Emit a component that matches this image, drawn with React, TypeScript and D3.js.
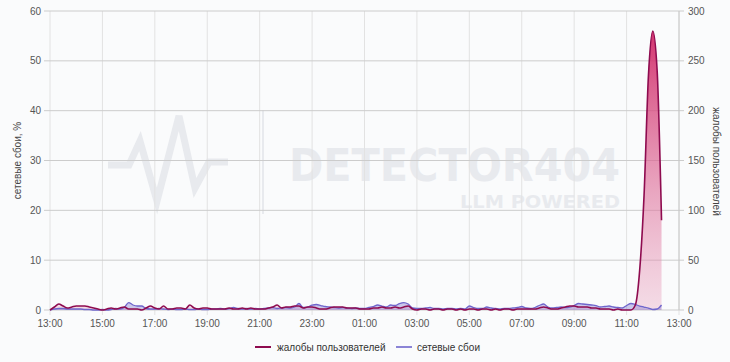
import React from "react";
import * as d3 from "d3";

// complaints per 10-minute bucket, starting 13:00 (right axis)
const complaints: number[] = [
  0, 3, 6, 4, 2, 3,
  4, 4, 4, 3, 2, 1,
  0, 1, 2, 1, 2, 3,
  1, 1, 1, 0, 2, 4,
  2, 1, 4, 1, 1, 2,
  2, 1, 5, 2, 1, 2,
  2, 1, 1, 1, 1, 2,
  1, 1, 2, 1, 2, 1,
  1, 1, 2, 3, 5, 2,
  3, 3, 4, 4, 2, 3,
  3, 2, 1, 1, 2, 3,
  3, 3, 2, 2, 2, 1,
  1, 1, 2, 2, 3, 2,
  2, 3, 2, 3, 4, 1,
  0, 1, 1, 0, 1, 1,
  0, 1, 1, 0, 1, 0,
  1, 1, 0, 1, 1, 0,
  1, 0, 1, 1, 0, 1,
  1, 1, 1, 1, 2, 3,
  2, 1, 1, 2, 3, 4,
  4, 3, 3, 3, 2, 2,
  1, 1, 1, 0, 1, 0,
  0, 0, 5, 40, 115, 235,
  280, 240, 90,
];

// network failures, % (left axis)
const failures: number[] = [
  0, 0.2, 0.3, 0.3, 0.2, 0.2,
  0.2, 0.2, 0.1, 0.1, 0, 0,
  0.1, 0, 0.1, 0.3, 0.2, 0.5,
  1.5, 1.0, 0.8, 0.8, 0.3, 0.2,
  0.2, 0.3, 0.2, 0.1, 0.2, 0.1,
  0.1, 0.2, 0.1, 0.1, 0.2, 0.1,
  0.1, 0.2, 0.2, 0.3, 0.2, 0.3,
  0.5, 0.3, 0.2, 0.3, 0.2, 0.3,
  0.2, 0.3, 0.4, 0.5, 0.3, 0.4,
  0.5, 0.4, 0.6, 1.3, 0.5, 0.6,
  1.0, 1.1, 0.9, 0.7, 0.6, 0.5,
  0.4, 0.5, 0.4, 0.3, 0.4, 0.3,
  0.3, 0.5, 0.7, 1.0, 0.8, 0.6,
  1.0, 0.9, 1.3, 1.5, 1.2, 0.4,
  0.3, 0.3, 0.4, 0.5, 0.3, 0.3,
  0.2, 0.3, 0.3, 0.2, 0.3, 0.2,
  0.8, 0.5, 0.3, 0.3, 0.6, 0.4,
  0.3, 0.2, 0.3, 0.3, 0.4, 0.5,
  0.7, 0.4, 0.3, 0.5, 0.9, 1.2,
  0.6, 0.4, 0.5, 0.6, 0.5, 0.6,
  0.9, 1.3, 1.2, 1.1, 1.0, 0.9,
  0.6, 0.7, 0.8, 0.6, 0.5, 0.4,
  0.9, 1.3, 1.1, 0.8, 0.6, 0.4,
  0.1, 0.2, 1.0,
];

const leftTicks = [0, 10, 20, 30, 40, 50, 60];
const rightTicks = [0, 50, 100, 150, 200, 250, 300];
const xTickHours = [0, 2, 4, 6, 8, 10, 12, 14, 16, 18, 20, 22, 24];
const seriesNames = ["жалобы пользователей", "сетевые сбои"];
const leftTitle = "сетевые сбои, %";
const rightTitle = "жалобы пользователей";

const W = 730;
const H = 362;
const M = { left: 50, right: 679, top: 11, bottom: 310 };
const BG = "#fafbfc";
const C_RED = "#8e0b4f";
const C_BLUE = "#6f66cc";
const WM = "#e8eaee";
const FONT = "'Liberation Sans', Arial, sans-serif";

const start = new Date(2024, 0, 1, 13, 0);
const end = new Date(2024, 0, 2, 13, 0);
const times = complaints.map((_, i) => d3.timeMinute.offset(start, i * 10));

export default function App() {
  const x = d3.scaleTime().domain([start, end]).range([M.left, M.right]);
  const yL = d3.scaleLinear().domain([0, 60]).range([M.bottom, M.top]);
  const yR = d3.scaleLinear().domain([0, 300]).range([M.bottom, M.top]);
  const xTicks = xTickHours.map((h) => d3.timeHour.offset(start, h));
  const fmt = d3.timeFormat("%H:%M");

  const redLine = d3
    .line<number>()
    .x((_, i) => x(times[i]))
    .y((d) => yR(d))
    .curve(d3.curveMonotoneX);
  const redArea = d3
    .area<number>()
    .x((_, i) => x(times[i]))
    .y0(yR(0))
    .y1((d) => yR(d))
    .curve(d3.curveMonotoneX);
  const blueLine = d3
    .line<number>()
    .x((_, i) => x(times[i]))
    .y((d) => yL(d))
    .curve(d3.curveMonotoneX);
  const blueArea = d3
    .area<number>()
    .x((_, i) => x(times[i]))
    .y0(yL(0))
    .y1((d) => yL(d))
    .curve(d3.curveMonotoneX);

  // watermark logo polyline
  const logo: [number, number][] = [
    [108, 165], [129, 165], [140, 141], [157, 201], [179, 116], [195, 188], [209, 162], [228, 162],
  ];

  const legendY = 347;

  return (
    <svg
      width={W}
      height={H}
      style={{ position: "fixed", left: 0, top: 0, background: BG }}
      fontFamily={FONT}
    >
      <rect x={0} y={0} width={W} height={H} fill={BG} />
      <defs>
        <linearGradient id="redGrad" x1="0" y1="0" x2="0" y2="1">
          <stop offset="0" stopColor="#d12a68" stopOpacity={0.95} />
          <stop offset="1" stopColor="#e8a0bd" stopOpacity={0.35} />
        </linearGradient>
      </defs>

      {/* watermark */}
      <g>
        <polyline
          points={logo.map((p) => p.join(",")).join(" ")}
          fill="none"
          stroke={WM}
          strokeWidth={7}
          strokeLinejoin="miter"
        />
        <line x1={263} x2={263} y1={110} y2={214} stroke={WM} strokeWidth={2} />
        <text
          x={289}
          y={181}
          fontFamily="'DejaVu Sans', sans-serif"
          fontWeight="bold"
          fontSize={44}
          fill={WM}
          textLength={331}
          lengthAdjust="spacingAndGlyphs"
        >
          DETECTOR404
        </text>
        <text
          x={460}
          y={208}
          fontFamily="'DejaVu Sans', sans-serif"
          fontWeight="bold"
          fontSize={18}
          fill={WM}
          textLength={160}
          lengthAdjust="spacingAndGlyphs"
        >
          LLM POWERED
        </text>
      </g>

      {/* vertical grid */}
      {xTicks.map((t, i) => (
        <line
          key={"vx" + i}
          x1={x(t)}
          x2={x(t)}
          y1={M.top}
          y2={M.bottom + 5}
          stroke="#e2e2e2"
          strokeWidth={1}
        />
      ))}
      {/* horizontal grid */}
      {leftTicks.map((v, i) => (
        <line
          key={"hy" + i}
          x1={M.left - 6}
          x2={M.right + 5}
          y1={yL(v)}
          y2={yL(v)}
          stroke="#cccccc"
          strokeWidth={1}
        />
      ))}
      <line x1={M.right} x2={M.right} y1={M.top} y2={M.bottom} stroke="#c8c8c8" strokeWidth={1} />

      {/* series */}
      <path d={redArea(complaints) || ""} fill="url(#redGrad)" />
      <path d={blueArea(failures) || ""} fill={C_BLUE} fillOpacity={0.35} />
      <path d={blueLine(failures) || ""} fill="none" stroke={C_BLUE} strokeWidth={1.3} />
      <path d={redLine(complaints) || ""} fill="none" stroke={C_RED} strokeWidth={1.6} />

      {/* left axis labels */}
      {leftTicks.map((v, i) => (
        <text
          key={"lt" + i}
          x={M.left - 9}
          y={yL(v)}
          dy="0.35em"
          textAnchor="end"
          fontSize={10}
          fill="#555"
        >
          {v}
        </text>
      ))}
      {/* right axis labels */}
      {rightTicks.map((v, i) => (
        <text
          key={"rt" + i}
          x={M.right + 9}
          y={yR(v)}
          dy="0.35em"
          textAnchor="start"
          fontSize={10}
          fill="#555"
        >
          {v}
        </text>
      ))}
      {/* x labels */}
      {xTicks.map((t, i) => (
        <text
          key={"xt" + i}
          x={x(t)}
          y={M.bottom + 17}
          textAnchor="middle"
          fontSize={10}
          fill="#555"
        >
          {fmt(t)}
        </text>
      ))}

      {/* axis titles */}
      <text
        transform={`translate(21,${(M.top + M.bottom) / 2}) rotate(-90)`}
        textAnchor="middle"
        fontSize={10}
        fill="#444"
      >
        {leftTitle}
      </text>
      <text
        transform={`translate(713,${(M.top + M.bottom) / 2 + 1}) rotate(90)`}
        textAnchor="middle"
        fontSize={10}
        fill="#444"
      >
        {rightTitle}
      </text>

      {/* legend */}
      <g>
        <line x1={255} x2={271} y1={legendY} y2={legendY} stroke={C_RED} strokeWidth={2} />
        <text x={277} y={legendY} dy="0.35em" fontSize={10} fill="#333">
          {seriesNames[0]}
        </text>
        <line x1={396} x2={412} y1={legendY} y2={legendY} stroke={C_BLUE} strokeWidth={1.6} />
        <text x={417} y={legendY} dy="0.35em" fontSize={10} fill="#333">
          {seriesNames[1]}
        </text>
      </g>
    </svg>
  );
}
